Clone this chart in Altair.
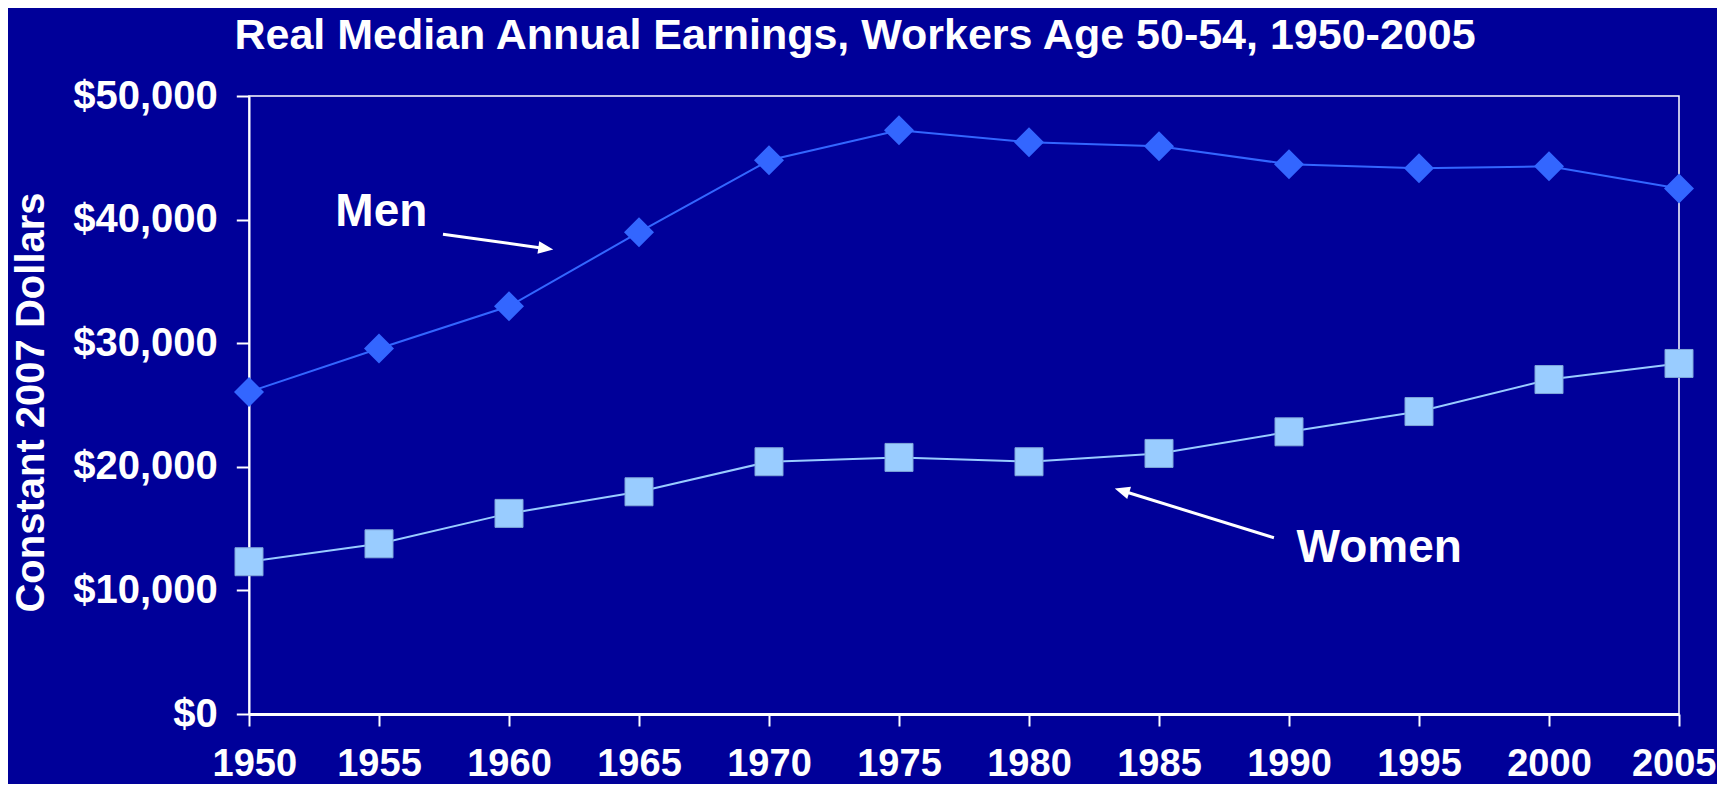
import altair as alt
import pandas as pd

# ---- data ----
years = [1950, 1955, 1960, 1965, 1970, 1975, 1980, 1985, 1990, 1995, 2000, 2005]
men = [26060, 29570, 32990, 38980, 44800, 47230, 46260, 45930, 44480, 44150, 44310, 42510]
women = [12320, 13770, 16230, 17980, 20410, 20760, 20410, 21080, 22830, 24470, 27060, 28360]
y_ticks = [0, 10000, 20000, 30000, 40000, 50000]

# annotation labels and arrows (data units)
label_text = ["Men", "Women"]
label_x = [1955.09, 1993.47]
label_y = [40620, 13410]
arrow_x0 = [1957.46, 1989.42]
arrow_y0 = [38820, 14260]
arrow_x1 = [1961.24, 1983.74]
arrow_y1 = [37710, 17960]
tip_x = [1961.70, 1983.30]
tip_y = [37580, 18250]
tip_angle = [7.9, 197.3]

BG = "#000099"
MEN_C = "#3366FF"
WOMEN_C = "#99CCFF"
FONT = "Liberation Sans"

df = pd.DataFrame({"year": years, "men": men, "women": women})
lab = pd.DataFrame({"text": label_text, "x": label_x, "y": label_y})
arr = pd.DataFrame({"x0": arrow_x0, "y0": arrow_y0, "x1": arrow_x1, "y1": arrow_y1,
                    "tx": tip_x, "ty": tip_y, "ang": tip_angle})

xs = alt.Scale(domain=[1950, 2005], nice=False, zero=False)
ys = alt.Scale(domain=[0, 50000], nice=False)

x_axis = alt.Axis(values=years, format="d", title=None, grid=False,
                  labelFontSize=38, labelFont=FONT, labelFontWeight="bold",
                  labelColor="white", labelPadding=19, labelFlush=True,
                  labelFlushOffset=37,
                  labelOverlap=False, labelBound=False,
                  tickColor="white", tickSize=12, tickWidth=2,
                  domainColor="white", domainWidth=3)
y_axis = alt.Axis(values=y_ticks, format="$,.0f", title="Constant 2007 Dollars",
                  grid=False, labelFontSize=40, labelFont=FONT, labelFontWeight="bold",
                  labelColor="white", labelPadding=19, labelFlush=False,
                  labelOverlap=False, labelBound=False,
                  tickColor="white", tickSize=12.7, tickWidth=2,
                  domainColor="white", domainWidth=2,
                  titleFontSize=40, titleFont=FONT, titleFontWeight="bold",
                  titleColor="white", titleAngle=270, titleX=-218, titleY=306,
                  titleAlign="center", titleBaseline="middle")

base = alt.Chart(df)

men_line = base.mark_line(color=MEN_C, strokeWidth=2).encode(
    x=alt.X("year:Q", scale=xs, axis=x_axis),
    y=alt.Y("men:Q", scale=ys, axis=y_axis))
men_pts = base.mark_point(shape="diamond", filled=True, color=MEN_C, size=900, opacity=1).encode(
    x=alt.X("year:Q", scale=xs), y=alt.Y("men:Q", scale=ys))
women_line = base.mark_line(color=WOMEN_C, strokeWidth=2).encode(
    x=alt.X("year:Q", scale=xs), y=alt.Y("women:Q", scale=ys))
women_pts = base.mark_point(shape="square", filled=True, color=WOMEN_C, size=784, opacity=1,
                            stroke="#7fa6d9", strokeWidth=1).encode(
    x=alt.X("year:Q", scale=xs), y=alt.Y("women:Q", scale=ys))

shafts = alt.Chart(arr).mark_rule(color="white", strokeWidth=3).encode(
    x=alt.X("x0:Q", scale=xs), y=alt.Y("y0:Q", scale=ys),
    x2="x1:Q", y2="y1:Q")
heads = alt.Chart(arr).mark_point(shape="M0,0L-2,-0.85L-2,0.85Z", filled=True,
                                  color="white", size=225, opacity=1).encode(
    x=alt.X("tx:Q", scale=xs), y=alt.Y("ty:Q", scale=ys),
    angle=alt.Angle("ang:Q", scale=None))

labels = alt.Chart(lab).mark_text(font=FONT, fontSize=46, fontWeight="bold",
                                  color="white", align="center", baseline="middle").encode(
    x=alt.X("x:Q", scale=xs), y=alt.Y("y:Q", scale=ys), text="text:N")

chart = alt.layer(men_line, women_line, shafts, heads, men_pts, women_pts, labels).properties(
    width=1430, height=618,
    autosize=alt.AutoSizeParams(type="none"),
    padding={"left": 241, "top": 88, "right": 38, "bottom": 70},
    title=alt.Title("Real Median Annual Earnings, Workers Age 50-54, 1950-2005",
                    font=FONT, fontSize=43, fontWeight="bold", color="white",
                    anchor="middle", dx=-109, dy=-14),
).configure(background=BG).configure_view(stroke="white", strokeWidth=1.5)

chart.save("out.html", embed_options={"renderer": "svg", "actions": False})
